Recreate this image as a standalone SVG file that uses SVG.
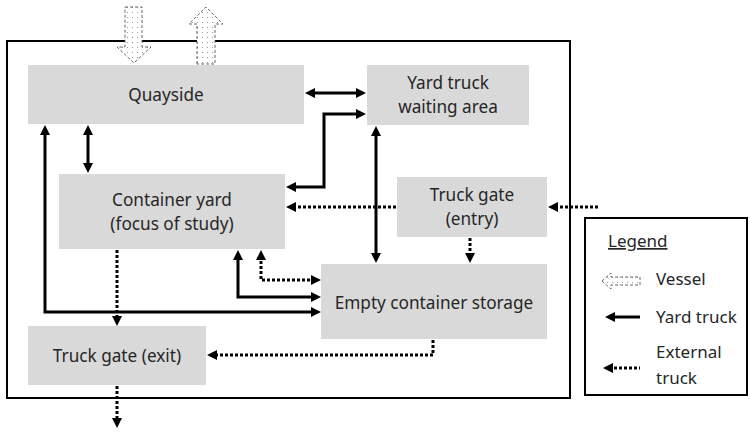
<svg xmlns="http://www.w3.org/2000/svg" width="750" height="433" viewBox="0 0 750 433">
<style>
.box{fill:#d9d9d9;}
.lbl{font-family:"Noto Sans","Open Sans",sans-serif;font-size:17.2px;fill:#262626;text-anchor:middle;}
.leg{font-family:"Noto Sans","Open Sans",sans-serif;font-size:17px;fill:#262626;}
.solid{fill:none;stroke:#000;stroke-width:3;}
.dot{fill:none;stroke:#000;stroke-width:3;stroke-dasharray:3 2;}
.vessel{fill:url(#dots);stroke:#666;stroke-width:1;stroke-dasharray:3 2;}
.frame{fill:none;stroke:#000;stroke-width:2;}
</style>
<defs>
<marker id="ah" markerUnits="userSpaceOnUse" markerWidth="10" markerHeight="10" refX="4" refY="5" orient="auto-start-reverse" viewBox="0 0 10 10">
<path d="M0,0 L10,5 L0,10 Z" fill="#000"/>
</marker>
<pattern id="dots" width="5" height="5" patternUnits="userSpaceOnUse">
<rect width="5" height="5" fill="#fff"/>
<rect x="2" y="2" width="1" height="1" fill="#999"/>
</pattern>
</defs>
<rect class="frame" x="7" y="41" width="563" height="357"/>
<g id="vessels">
<path class="vessel" d="M125,7 H142 V47 H151 L134,63 L117,47 H125 Z"/>
<path class="vessel" d="M197,64 V24 H189 L206,7 L223,24 H215 V64 Z"/>
</g>
<g id="quayside"><rect class="box" x="28" y="65" width="276" height="59"/><text class="lbl" x="166" y="101">Quayside</text></g>
<g id="yard-truck-waiting-area"><rect class="box" x="367" y="65" width="162" height="60"/><text class="lbl" x="448" y="89">Yard truck</text><text class="lbl" x="448" y="113">waiting area</text></g>
<g id="container-yard"><rect class="box" x="59" y="174" width="226" height="75"/><text class="lbl" x="172" y="206">Container yard</text><text class="lbl" x="172" y="230">(focus of study)</text></g>
<g id="truck-gate-entry"><rect class="box" x="397" y="177" width="150" height="60"/><text class="lbl" x="472" y="201">Truck gate</text><text class="lbl" x="472" y="225">(entry)</text></g>
<g id="empty-container-storage"><rect class="box" x="321" y="264" width="226" height="75"/><text class="lbl" x="434" y="309">Empty container storage</text></g>
<g id="truck-gate-exit"><rect class="box" x="28" y="326" width="178" height="59"/><text class="lbl" x="117" y="362">Truck gate (exit)</text></g>
<g id="connectors">
<path class="solid" d="M311,93 H360" marker-start="url(#ah)" marker-end="url(#ah)"/>
<path class="solid" d="M360,114 H324 V187 H292" marker-start="url(#ah)" marker-end="url(#ah)"/>
<path class="solid" d="M376,132 V257" marker-start="url(#ah)" marker-end="url(#ah)"/>
<path class="solid" d="M88,131 V167" marker-start="url(#ah)" marker-end="url(#ah)"/>
<path class="solid" d="M315,312 H45 V131" marker-start="url(#ah)" marker-end="url(#ah)"/>
<path class="solid" d="M238,256 V297 H315" marker-start="url(#ah)" marker-end="url(#ah)"/>
<path class="dot" d="M261,256 V280 H315" marker-start="url(#ah)" marker-end="url(#ah)"/>
<path class="dot" d="M396,207 H292" marker-end="url(#ah)"/>
<path class="dot" d="M598,207 H554" marker-end="url(#ah)"/>
<path class="dot" d="M470,238 V257" marker-end="url(#ah)"/>
<path class="dot" d="M117,250 V320" marker-end="url(#ah)"/>
<path class="dot" d="M433,340 V355 H213" marker-end="url(#ah)"/>
<path class="dot" d="M117,386 V422" marker-end="url(#ah)"/>
</g>
<g id="legend">
<rect class="frame" x="585" y="218" width="162" height="177"/>
<text class="leg" x="608" y="247" text-decoration="underline">Legend</text>
<path class="vessel" d="M602,281 L611,273 V277 H640 V285 H611 V289 Z"/>
<text class="leg" x="656" y="285">Vessel</text>
<path class="solid" d="M611,317 H640" marker-start="url(#ah)"/>
<text class="leg" x="656" y="323">Yard truck</text>
<path class="dot" d="M609,368 H640" marker-start="url(#ah)"/>
<text class="leg" x="656" y="358">External</text>
<text class="leg" x="656" y="384">truck</text>
</g>
</svg>
